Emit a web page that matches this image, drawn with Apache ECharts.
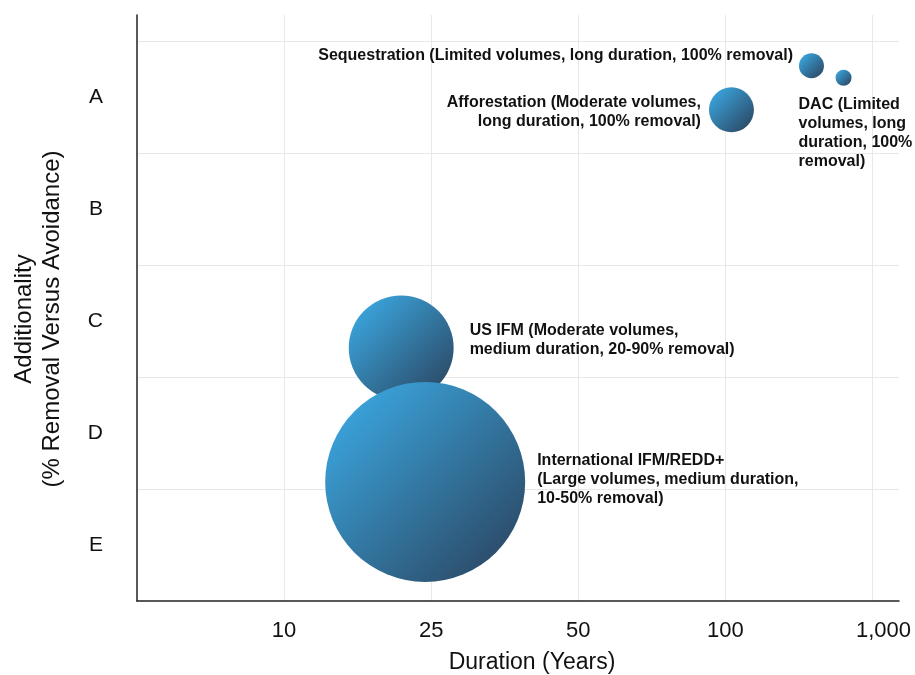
<!DOCTYPE html>
<html>
<head>
<meta charset="utf-8">
<script src="https://cdn.jsdelivr.net/npm/echarts@6/dist/echarts.min.js"></script>
<style>
html,body{margin:0;padding:0;background:#fff;}
#chart{width:915px;height:675px;}
</style>
</head>
<body>
<div id="chart"></div>
<script>
// Duration tick labels (positions 1..5 on an ordinal scale)
var durationTicks = ['', '10', '25', '50', '100', '1,000'];
// Additionality grades, bottom to top
var gradeLabels = ['E', 'D', 'C', 'B', 'A'];

var names = [
  'Sequestration',
  'DAC',
  'Afforestation',
  'US IFM',
  'International IFM/REDD+'
];
var labels = [
  'Sequestration (Limited volumes, long duration, 100% removal)',
  'DAC (Limited\nvolumes, long\nduration, 100%\nremoval)',
  'Afforestation (Moderate volumes,\nlong duration, 100% removal)',
  'US IFM (Moderate volumes,\nmedium duration, 20-90% removal)',
  'International IFM/REDD+\n(Large volumes, medium duration,\n10-50% removal)'
];
// duration position (ordinal scale units)
var durationPos = [4.585, 4.803, 4.041, 1.796, 1.959];
// additionality position (grade scale units, E band = 0..1)
var additionalityPos = [4.777, 4.67, 4.384, 2.259, 1.0625];
// relative volume (bubble area)
var volume = [6.25, 2.56, 20.25, 110, 400];

var FONT = '"Liberation Sans", Arial, Helvetica, sans-serif';

var gradient = new echarts.graphic.LinearGradient(0, 0, 1, 1, [
  {offset: 0, color: '#3cb0ec'},
  {offset: 1, color: '#2a3f58'}
]);

var labelCfg = [
  {position: 'left', distance: 6, align: 'right', offset: [0, -10]},
  {position: [-37, 25], align: 'left', verticalAlign: 'top'},
  {position: 'left', distance: 8, align: 'right', offset: [0, 2]},
  {position: 'right', distance: 16, align: 'left', offset: [0, -7.5]},
  {position: 'right', distance: 12, align: 'left', offset: [0, -2]}
];

var data = names.map(function (n, i) {
  var lc = labelCfg[i];
  return {
    name: n,
    value: [durationPos[i], additionalityPos[i], volume[i]],
    label: Object.assign({
      show: true,
      formatter: labels[i],
      color: '#111',
      fontFamily: FONT,
      fontWeight: 'bold',
      fontSize: 16,
      lineHeight: 19
    }, lc)
  };
});

var chart = echarts.init(document.getElementById('chart'), null, {renderer: 'canvas'});
chart.setOption({
  backgroundColor: '#fff',
  animation: false,
  grid: {left: 137, right: 16, top: 15, bottom: 74, containLabel: false, outerBoundsMode: 'none'},
  xAxis: {
    type: 'value',
    min: 0,
    max: 5.18,
    interval: 1,
    name: 'Duration (Years)',
    nameLocation: 'middle',
    nameGap: 50,
    nameTextStyle: {fontFamily: FONT, fontSize: 23, color: '#111', padding: [0, 0, 0, 28]},
    axisLine: {show: true, lineStyle: {color: '#222', width: 1.5}},
    axisTick: {show: false},
    axisLabel: {
      fontFamily: FONT, fontSize: 22, color: '#111', margin: 19,
      showMaxLabel: false,
      formatter: function (v) {
        var k = Math.round(v);
        if (k === 5) return '{r|' + durationTicks[k] + '}';
        return durationTicks[k] || '';
      },
      rich: {r: {fontFamily: FONT, fontSize: 22, color: '#111', padding: [0, 0, 0, 22]}}
    },
    splitLine: {show: true, showMinLine: false, showMaxLine: false, lineStyle: {color: '#e8e8e8', width: 1}}
  },
  yAxis: [{
    type: 'value',
    min: 0,
    max: 5.23,
    interval: 1,
    name: 'Additionality\n(% Removal Versus Avoidance)',
    nameLocation: 'middle',
    nameGap: 71,
    nameRotate: 90,
    nameTextStyle: {fontFamily: FONT, fontSize: 24, color: '#111', lineHeight: 28, padding: [0, 22, 0, 0]},
    axisLine: {show: true, lineStyle: {color: '#222', width: 1.5}},
    axisTick: {show: false},
    axisLabel: {show: false},
    splitLine: {show: true, showMinLine: false, showMaxLine: false, lineStyle: {color: '#e8e8e8', width: 1}}
  }, {
    type: 'value',
    position: 'left',
    min: 0,
    max: 5.23,
    interval: 0.5,
    axisLine: {show: false},
    axisTick: {show: false},
    splitLine: {show: false},
    axisLabel: {
      fontFamily: FONT, fontSize: 21, color: '#111', margin: 34,
      showMaxLabel: false,
      formatter: function (v) {
        var k = Math.round(v * 2);
        if (k % 2 === 0) return '';
        return gradeLabels[(k - 1) / 2] || '';
      }
    }
  }],
  series: [{
    type: 'scatter',
    yAxisIndex: 0,
    symbol: 'circle',
    symbolSize: function (val) { return 10 * Math.sqrt(val[2]); },
    itemStyle: {color: gradient, opacity: 1},
    emphasis: {disabled: true},
    data: data
  }]
});
</script>
</body>
</html>
